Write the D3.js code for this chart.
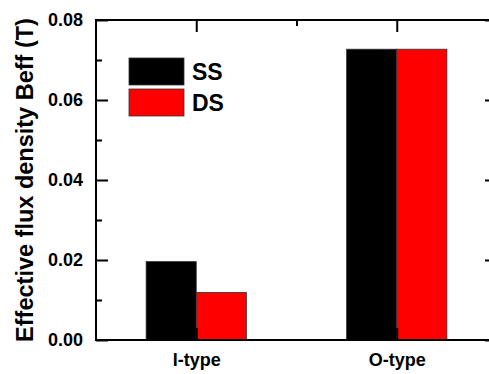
<!DOCTYPE html>
<html>
<head>
<meta charset="utf-8">
<script src="https://cdn.jsdelivr.net/npm/d3@7"></script>
<style>
  body { margin: 0; background: #fff; }
  svg text { font-family: "Liberation Sans", Arial, sans-serif; font-weight: bold; }
</style>
</head>
<body>
<div id="chart"></div>
<script>
var categories = ["I-type", "O-type"];
var series_names = ["SS", "DS"];
var series_colors = ["#000000", "#ff0000"];
var ss_values = [0.0196, 0.0727];
var ds_values = [0.0119, 0.0727];
var y_ticks = [0, 0.02, 0.04, 0.06, 0.08];
var y_minor = [0.01, 0.03, 0.05, 0.07];

var width = 489, height = 374;
var margin = {top: 20, right: -8, bottom: 34, left: 96};

var svg = d3.select("#chart").append("svg")
    .attr("width", width)
    .attr("height", height);

var xScale = d3.scaleLinear()
    .domain([0.5, 2.5])
    .range([margin.left, width - margin.right]);
var yScale = d3.scaleLinear()
    .domain([0, 0.08])
    .range([height - margin.bottom, margin.top]);

var bar_w = 0.25;
var all_series = [ss_values, ds_values];

// bars
all_series.forEach(function (vals, s) {
    svg.append("g").selectAll("rect")
        .data(vals)
        .enter().append("rect")
        .attr("x", function (d, i) { return xScale(i + 1 - bar_w + s * bar_w); })
        .attr("width", xScale(1 + bar_w) - xScale(1))
        .attr("y", function (d) { return yScale(d); })
        .attr("height", function (d) { return yScale(0) - yScale(d); })
        .attr("fill", series_colors[s])
        .attr("stroke", "#333")
        .attr("stroke-width", 0.8);
});

// axes (ticks point inward)
var tick_font = "18px";
var x0 = xScale.range()[0], x1 = xScale.range()[1];
var y0 = yScale.range()[0], y1 = yScale.range()[1];

var left_axis = svg.append("g")
    .attr("transform", "translate(" + x0 + ",0)")
    .call(d3.axisLeft(yScale).tickValues(y_ticks).tickSize(-12).tickPadding(13)
        .tickFormat(d3.format(".2f")));
svg.append("g")
    .attr("transform", "translate(" + x0 + ",0)")
    .call(d3.axisLeft(yScale).tickValues(y_minor).tickSize(-6).tickFormat(""));
svg.append("g")
    .attr("transform", "translate(" + x1 + ",0)")
    .call(d3.axisRight(yScale).tickValues(y_ticks).tickSize(-12).tickFormat(""));
svg.append("g")
    .attr("transform", "translate(" + x1 + ",0)")
    .call(d3.axisRight(yScale).tickValues(y_minor).tickSize(-6).tickFormat(""));

var bottom_axis = svg.append("g")
    .attr("transform", "translate(0," + y0 + ")")
    .call(d3.axisBottom(xScale).tickValues([1, 2]).tickSize(-12).tickPadding(13)
        .tickFormat(function (d) { return categories[d - 1]; }));
svg.append("g")
    .attr("transform", "translate(0," + y1 + ")")
    .call(d3.axisTop(xScale).tickValues([1, 2]).tickSize(-12).tickFormat(""));
svg.append("g")
    .attr("transform", "translate(0," + y1 + ")")
    .call(d3.axisTop(xScale).tickValues([1.5]).tickSize(-6).tickFormat(""));

svg.selectAll(".domain").remove();
svg.selectAll(".tick line").attr("stroke", "#000").attr("stroke-width", 2);
left_axis.selectAll("text").style("font-size", tick_font).attr("fill", "#000");
bottom_axis.selectAll("text").style("font-size", tick_font).attr("fill", "#000");

// frame
svg.append("rect")
    .attr("x", x0)
    .attr("y", y1)
    .attr("width", x1 - x0)
    .attr("height", y0 - y1)
    .attr("fill", "none")
    .attr("stroke", "#000")
    .attr("stroke-width", 2);

// y title
svg.append("text")
    .attr("transform", "translate(33," + ((y0 + y1) / 2) + ") rotate(-90)")
    .attr("text-anchor", "middle")
    .style("font-size", "23.5px")
    .text("Effective flux density Beff (T)");

// legend
var legend = svg.append("g");
series_names.forEach(function (name, s) {
    legend.append("rect")
        .attr("x", 129)
        .attr("y", 58 + s * 31)
        .attr("width", 55)
        .attr("height", 27)
        .attr("fill", series_colors[s])
        .attr("stroke", "#333")
        .attr("stroke-width", 0.8);
    legend.append("text")
        .attr("x", 192)
        .attr("y", 80 + s * 31)
        .style("font-size", "23px")
        .text(name);
});
</script>
</body>
</html>
